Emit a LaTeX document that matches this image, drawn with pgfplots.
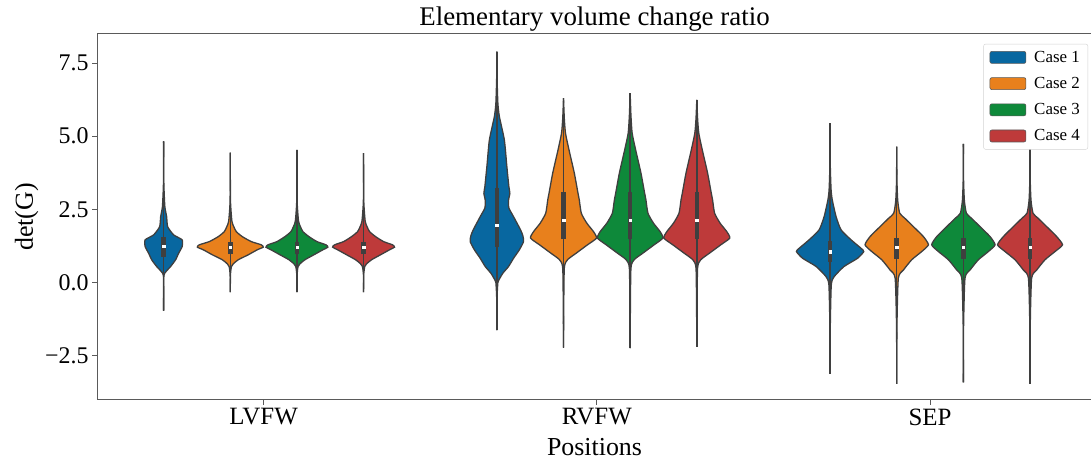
\documentclass[border=0pt]{standalone}
\usepackage{pgfplots}
\pgfplotsset{compat=1.18}
\usepackage{pgfplotstable}
\usepgfplotslibrary{fillbetween}
\usepackage{fontspec}
\setmainfont{Liberation Serif}

\definecolor{cA}{RGB}{8,103,160}
\definecolor{cB}{RGB}{232,128,28}
\definecolor{cC}{RGB}{14,137,58}
\definecolor{cD}{RGB}{190,58,58}
\definecolor{edge}{RGB}{63,63,63}
\definecolor{spine}{RGB}{90,90,90}

% half-width profiles: y value, half width in px (1 px = 0.003 x units)
\pgfplotstableread{
y w
-0.96 0
0.20 0.2
0.38 2.5
0.55 7
0.78 12
1.00 15
1.23 18.5
1.46 18.5
1.63 10
1.91 4
2.25 3
2.60 1.2
3.40 0.2
4.82 0
}\tLa
\pgfplotstableread{
y w
-0.33 0
0.30 0.2
0.55 1.2
0.64 3
0.78 8
0.95 18
1.12 27
1.21 33
1.29 31
1.40 21
1.57 12
1.74 6
1.91 3.5
2.10 1.6
2.80 0.2
4.44 0
}\tLb
\pgfplotstableread{
y w
-0.33 0
0.30 0.2
0.55 1.2
0.64 3
0.78 8
0.95 17
1.12 26
1.21 31
1.29 29
1.40 20
1.57 12
1.74 6
1.91 3.5
2.10 1.6
2.80 0.2
4.53 0
}\tLc
\pgfplotstableread{
y w
-0.33 0
0.30 0.2
0.55 1.2
0.64 3
0.78 8
0.95 17
1.12 26
1.21 31
1.29 29
1.40 20
1.57 12
1.74 6
1.91 3.5
2.10 1.6
2.80 0.2
4.42 0
}\tLd
\pgfplotstableread{
y w
-1.62 0
-0.50 0.2
0.00 1.0
0.09 2
0.32 6
0.55 11.7
0.83 16.7
1.12 22.5
1.40 26.7
1.60 26
1.80 23.7
2.25 16.7
2.55 12
2.82 11.7
3.05 13
3.28 12
3.96 10
4.87 7.5
5.67 2.5
6.13 1.0
7.00 0.2
7.89 0
}\tRa
\pgfplotstableread{
y w
-2.22 0
-1.00 0.2
0.50 0.8
0.78 4
1.00 12.5
1.29 24
1.52 33
1.74 30
2.03 23.3
2.37 17.8
2.82 15.8
3.05 14.5
3.74 10.8
4.53 5.5
5.10 2
5.60 0.8
6.30 0
}\tRb
\pgfplotstableread{
y w
-2.24 0
-1.00 0.2
0.50 0.8
0.78 4
1.00 12.5
1.29 24
1.52 32.7
1.74 30
2.03 23.3
2.37 17.8
2.82 15.8
3.05 14.5
3.74 10.8
4.53 5.5
5.10 2
5.70 0.8
6.47 0
}\tRc
\pgfplotstableread{
y w
-2.19 0
-1.00 0.2
0.50 0.8
0.78 4
1.00 12.5
1.29 24
1.52 33
1.74 30
2.03 23.3
2.37 17.8
2.82 15.8
3.05 14.5
3.74 10.8
4.53 5.5
5.10 2
5.60 0.8
6.24 0
}\tRd
\pgfplotstableread{
y w
-3.12 0
-1.50 0.2
-0.08 1.2
0.20 4
0.55 14
0.83 27.5
1.06 33.7
1.17 31
1.46 21
1.80 11
2.25 6
2.82 2.2
3.17 1.0
4.00 0.2
5.44 0
}\tSa
\pgfplotstableread{
y w
-3.46 0
-1.50 0.2
0.15 1.6
0.43 6.7
0.78 15
1.06 25
1.29 31.7
1.57 26.7
1.91 16.7
2.20 8
2.37 3
2.80 1.0
3.50 0.2
4.64 0
}\tSb
\pgfplotstableread{
y w
-3.41 0
-1.50 0.2
0.15 1.6
0.43 6.7
0.78 15
1.06 25
1.29 31.7
1.57 26.7
1.91 16.7
2.20 8
2.37 3
2.80 1.0
3.50 0.2
4.74 0
}\tSc
\pgfplotstableread{
y w
-3.46 0
-1.50 0.2
0.15 1.6
0.43 6.7
0.78 15
1.06 25
1.29 32.5
1.57 26.7
1.91 16.7
2.20 8
2.37 3
2.80 1.0
3.50 0.2
4.60 0
}\tSd

% #1 id, #2 centre, #3 colour, #4 min, #5 max, #6 q1, #7 q3, #8 median, #9 table
\newcommand{\violin}[9]{%
  \addplot[name path=R#1, draw=edge, line width=1.3bp, smooth, tension=0.35, forget plot]
    table[x expr={#2+0.003*\thisrow{w}}, y=y] {#9};
  \addplot[name path=L#1, draw=edge, line width=1.3bp, smooth, tension=0.35, forget plot]
    table[x expr={#2-0.003*\thisrow{w}}, y=y] {#9};
  \addplot[fill=#3, draw=none, forget plot] fill between[of=R#1 and L#1];
  \addplot[edge, line width=1.4bp, forget plot] coordinates {(#2,#4) (#2,#5)};
  \addplot[edge, line width=4.5bp, forget plot] coordinates {(#2,#6) (#2,#7)};
  \addplot[only marks, mark=square*, mark size=1.2bp, white, forget plot] coordinates {(#2,#8)};
}

\begin{document}
\begin{tikzpicture}
\begin{axis}[
  set layers,
  at={(97bp,64bp)}, anchor=south west,
  width=995bp, height=366bp, scale only axis,
  xmin=-0.5, xmax=2.486, ymin=-4.01, ymax=8.49,
  axis line style={draw=spine, line width=1bp},
  xtick={0,1,2}, xticklabels={LVFW,RVFW,SEP},
  ytick={-2.5,0,2.5,5,7.5}, yticklabels={−2.5,0.0,2.5,5.0,7.5},
  xtick pos=bottom, ytick pos=left, tick align=outside,
  major tick length=5bp,
  tick style={draw=spine, line width=0.8bp},
  xticklabel style={font=\fontsize{25}{25}\selectfont},
  yticklabel style={font=\fontsize{24}{24}\selectfont},
  xlabel={Positions}, ylabel={det(G)},
  label style={font=\fontsize{26}{26}\selectfont},
  xlabel style={yshift=-6bp},
  title={Elementary volume change ratio},
  title style={font=\fontsize{27}{27}\selectfont, yshift=-7bp},
  legend cell align=left,
  legend style={at={(0.996,0.973)}, anchor=north east, draw=gray!35, rounded corners=2bp,
    fill=white, font=\fontsize{17}{17}\selectfont, row sep=9.5bp,
    inner xsep=6bp, inner ysep=5bp,
    /tikz/every odd column/.append style={column sep=6bp}},
]
\addlegendimage{legend image code/.code={\draw[fill=cA, draw=gray!70!black, line width=0.6bp] (0bp,-6bp) rectangle (36bp,6bp);}}
\addlegendentry{Case 1}
\addlegendimage{legend image code/.code={\draw[fill=cB, draw=gray!70!black, line width=0.6bp] (0bp,-6bp) rectangle (36bp,6bp);}}
\addlegendentry{Case 2}
\addlegendimage{legend image code/.code={\draw[fill=cC, draw=gray!70!black, line width=0.6bp] (0bp,-6bp) rectangle (36bp,6bp);}}
\addlegendentry{Case 3}
\addlegendimage{legend image code/.code={\draw[fill=cD, draw=gray!70!black, line width=0.6bp] (0bp,-6bp) rectangle (36bp,6bp);}}
\addlegendentry{Case 4}

\violin{La}{-0.3}{cA}{-0.96}{4.82}{0.89}{1.57}{1.25}{\tLa}
\violin{Lb}{-0.1}{cB}{-0.33}{4.44}{0.97}{1.40}{1.21}{\tLb}
\violin{Lc}{0.1}{cC}{-0.33}{4.53}{0.97}{1.40}{1.21}{\tLc}
\violin{Ld}{0.3}{cD}{-0.33}{4.42}{0.97}{1.40}{1.21}{\tLd}

\violin{Ra}{0.7}{cA}{-1.62}{7.89}{1.23}{3.22}{1.95}{\tRa}
\violin{Rb}{0.9}{cB}{-2.22}{6.30}{1.48}{3.09}{2.14}{\tRb}
\violin{Rc}{1.1}{cC}{-2.24}{6.47}{1.48}{3.09}{2.14}{\tRc}
\violin{Rd}{1.3}{cD}{-2.19}{6.24}{1.48}{3.09}{2.14}{\tRd}

\violin{Sa}{1.7}{cA}{-3.12}{5.44}{0.72}{1.43}{1.06}{\tSa}
\violin{Sb}{1.9}{cB}{-3.46}{4.64}{0.80}{1.52}{1.20}{\tSb}
\violin{Sc}{2.1}{cC}{-3.41}{4.74}{0.80}{1.52}{1.20}{\tSc}
\violin{Sd}{2.3}{cD}{-3.46}{4.60}{0.80}{1.52}{1.20}{\tSd}
\end{axis}
\pgfresetboundingbox
\useasboundingbox (0,0) rectangle (1091bp,464bp);
\end{tikzpicture}
\end{document}
